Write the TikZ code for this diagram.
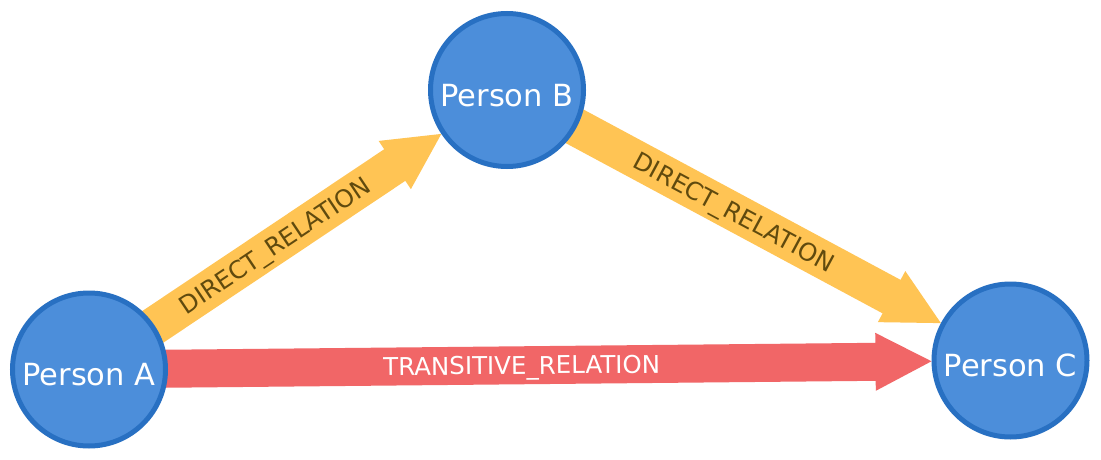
\documentclass[tikz,border=0pt]{standalone}
\usepackage{fontspec}
\setmainfont{DejaVu Sans}
\usetikzlibrary{calc,backgrounds}
\definecolor{nodefill}{HTML}{4C8EDA}
\definecolor{nodeline}{HTML}{2870C2}
\definecolor{directcol}{HTML}{FFC454}
\definecolor{transcol}{HTML}{F16667}
\definecolor{darklabel}{HTML}{604A0E}
\tikzset{
 person/.style={circle, fill=nodefill, draw=nodeline, line width=5pt, minimum size=153pt,
   inner sep=0pt, outer sep=0pt, text=white, font=\fontsize{30.5}{36}\selectfont,
   text height=32.2pt, text depth=0pt},
 rellabel/.style={sloped, font=\fontsize{24.5}{29}\selectfont, text height=17.9pt,
   text depth=0pt, inner sep=0pt},
}
\newcommand{\relarrow}[6]{% from, to, colour, label, labelcolour, labelname
  \coordinate (#6tip) at ($(#2.center)!79pt!(#1.center)$);
  \coordinate (#6hb) at ($(#6tip)!56pt!(#1.center)$);
  \coordinate (#6sb) at ($(#1.center)!79pt!(#2.center)$);
  \fill[#3] ($(#1.center)!19pt!90:(#2.center)$) -- ($(#6hb)!19pt!-90:(#1.center)$)
    -- ($(#6hb)!29pt!-90:(#1.center)$) -- (#6tip) -- ($(#6hb)!29pt!90:(#1.center)$)
    -- ($(#6hb)!19pt!90:(#1.center)$) -- ($(#1.center)!19pt!-90:(#2.center)$) -- cycle;
  \path (#6sb) -- (#6hb) node[rellabel, midway, text=#5] (#6) {#4};
}
\begin{document}
\begin{tikzpicture}[x=1pt,y=-1pt]
\useasboundingbox (0,0) rectangle (1101,460);
\node[person] (A) at (89,369.5) {Person A};
\node[person] (B) at (507,90) {Person B};
\node[person] (C) at (1010.5,360.5) {Person C};
\begin{pgfonlayer}{background}
\fill[white] (0,0) rectangle (1101,460);
\relarrow{A}{B}{directcol}{DIRECT\_RELATION}{darklabel}{lab1}
\relarrow{B}{C}{directcol}{DIRECT\_RELATION}{darklabel}{lab2}
\relarrow{A}{C}{transcol}{TRANSITIVE\_RELATION}{white}{lab3}
\end{pgfonlayer}
\end{tikzpicture}
\end{document}
